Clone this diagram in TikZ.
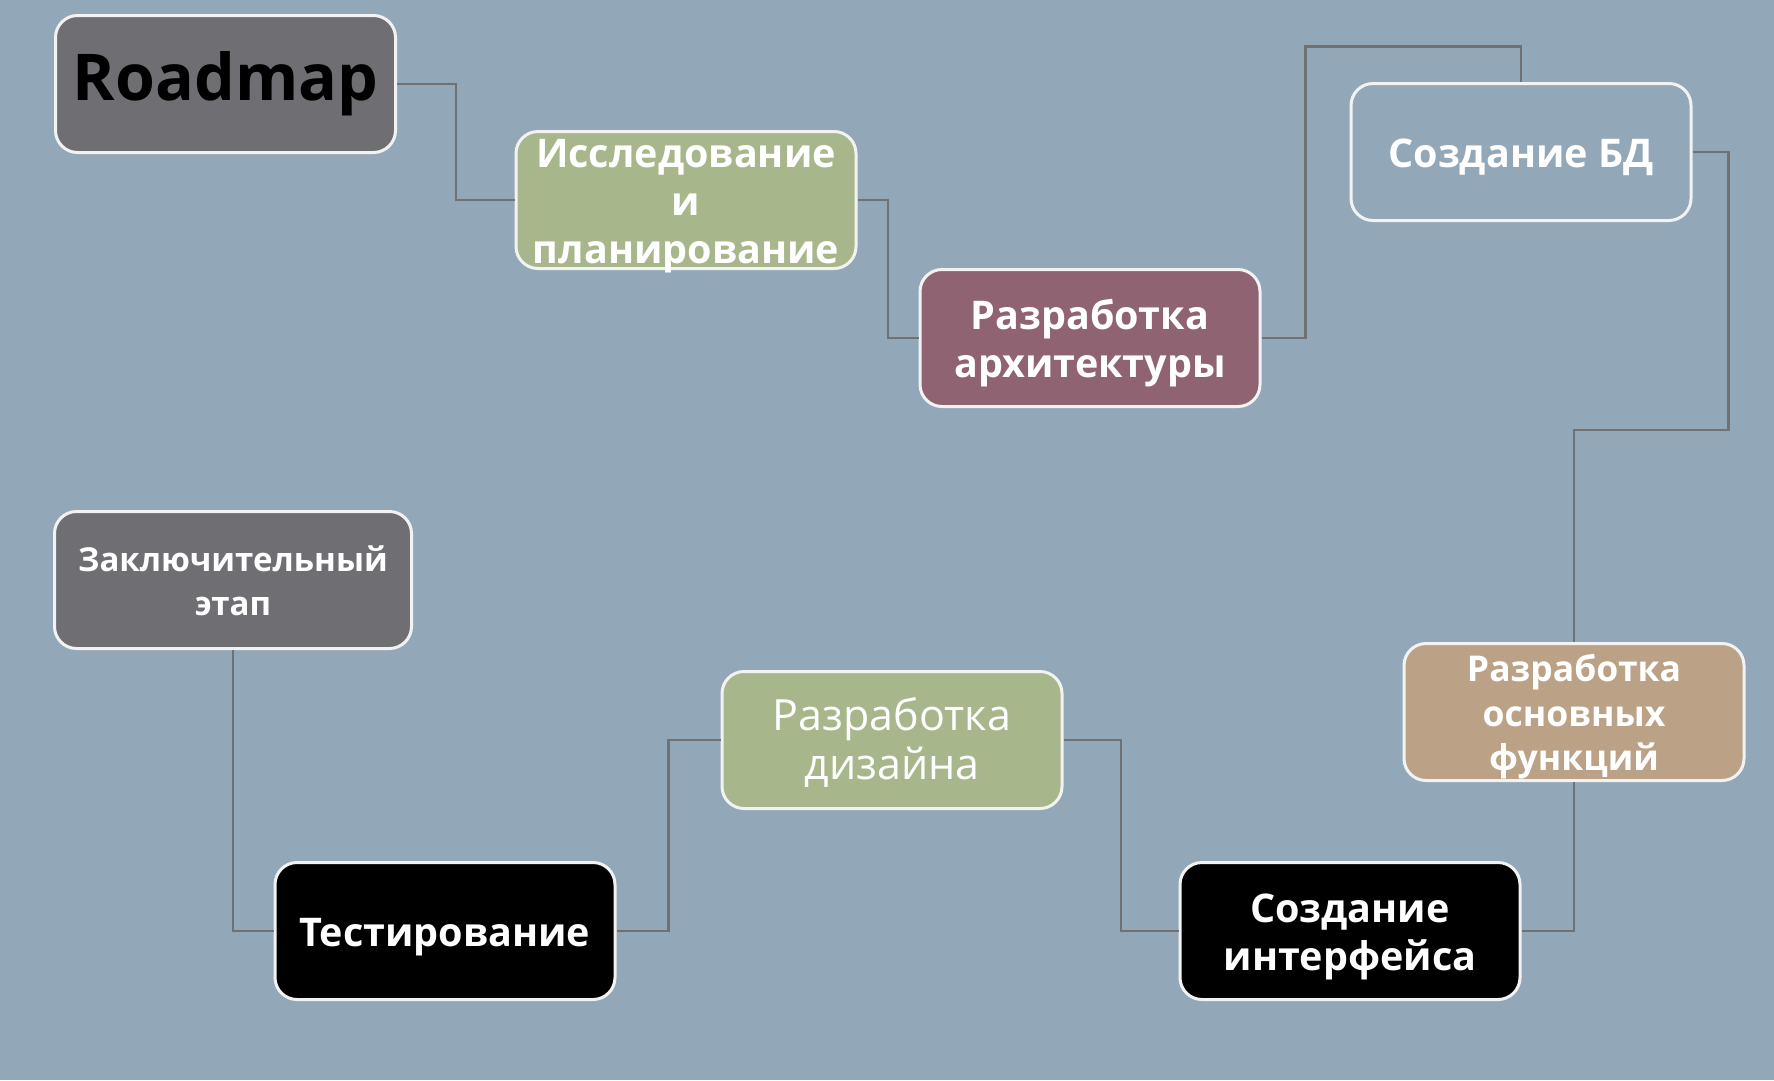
\documentclass[tikz,border=0pt]{standalone}
\usepackage{fontspec}
\setmainfont{Open Sans}
\usetikzlibrary{calc}
\definecolor{bg}{HTML}{92A8B8}
\definecolor{slate}{HTML}{6F6E73}
\definecolor{olive}{HTML}{A8B78B}
\definecolor{plum}{HTML}{8F6372}
\definecolor{sand}{HTML}{BBA286}
\definecolor{boxline}{HTML}{F2F2F2}
\definecolor{linkgray}{HTML}{717171}
\newcommand\boxtext[2][5.5pt]{\raisebox{-#1}[\dimexpr\height-12pt\relax][\dimexpr\depth-12pt\relax]{\begin{tabular}{@{}c@{}}#2\end{tabular}}}
\begin{document}
\begin{tikzpicture}[x=1pt,y=-1pt,
  box/.style={draw=boxline, line width=3pt, rounded corners=22pt,
    minimum width=340pt, minimum height=137pt, align=center, text=white,
    font=\bfseries\fontsize{39.5}{48}\selectfont, inner sep=0pt},
  link/.style={draw=linkgray, line width=2.5pt}]
\fill[bg] (0,0) rectangle (1774,1080);
\useasboundingbox (0,0) rectangle (1774,1080);

\node[box, fill=slate, text=black, font=\bfseries\fontsize{64.5}{70}\selectfont] (road) at (225.5,84) {\boxtext[2pt]{Roadmap}};
\node[box, fill=olive] (res) at (686,200) {\boxtext{Исследование\\и\\планирование}};
\node[box, fill=plum] (arch) at (1090,338) {\boxtext{Разработка\\архитектуры}};
\node[box, fill=none] (bd) at (1521,152) {\boxtext{Создание БД}};
\node[box, fill=sand, font=\bfseries\fontsize{35.5}{44.5}\selectfont] (fun) at (1574,712) {\boxtext{Разработка\\основных\\функций}};
\node[box, fill=black] (int) at (1350,931) {\boxtext{Создание\\интерфейса}};
\node[box, fill=olive, font=\fontsize{43}{48.5}\selectfont] (des) at (892,740) {\boxtext{Разработка\\дизайна}};
\node[box, fill=black] (test) at (445,931) {\boxtext{Тестирование}};
\node[box, fill=slate, minimum width=357pt, font=\bfseries\fontsize{33}{44}\selectfont] (zak) at (233,580) {\boxtext[4.5pt]{Заключительный\\этап}};

\draw[link] (road.east) -| ($(road.east)!.5!(res.west)$) |- (res.west);
\draw[link] (res.east) -| ($(res.east)!.5!(arch.west)$) |- (arch.west);
\draw[link] (arch.east) -- ++(44,0) |- ($(bd.north)+(0,-35.5)$) -- (bd.north);
\draw[link] (bd.east) -- ++(36,0) |- ($(fun.north)+(0,-212)$) -- (fun.north);
\draw[link] (fun.south) |- (int.east);
\draw[link] (int.west) -| ($(int.west)!.5!(des.east)$) |- (des.east);
\draw[link] (des.west) -| ($(des.west)!.5!(test.east)$) |- (test.east);
\draw[link] (test.west) -| (zak.south);
\end{tikzpicture}
\end{document}
